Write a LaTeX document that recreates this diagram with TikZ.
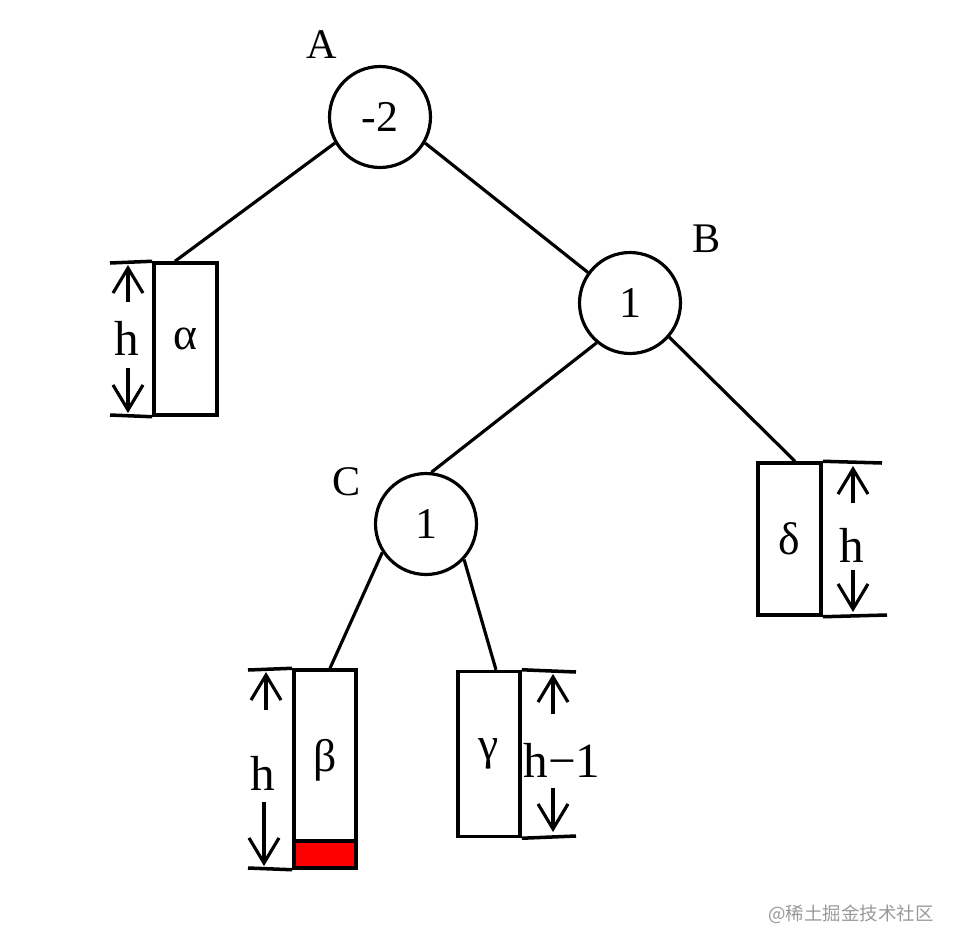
\documentclass[tikz,border=0pt]{standalone}
\usepackage{fontspec}
\setmainfont{Liberation Serif}
\newfontfamily\cjk{Noto Sans CJK SC}
\usetikzlibrary{arrows.meta}

\tikzset{
  balance/.style={draw, circle, line width=1.8pt, minimum size=2.02cm, inner sep=0pt,
    font=\fontsize{25}{25}\selectfont},
  subtree/.style={draw, rectangle, line width=2pt, inner sep=0pt,
    font=\fontsize{26}{26}\selectfont},
  treelabel/.style={font=\fontsize{24}{24}\selectfont},
  heightlabel/.style={font=\fontsize{28}{28}\selectfont},
  edge/.style={line width=1.8pt},
  tick/.style={line width=2pt},
  hgt/.style={line width=1.8pt, -{Straight Barb[length=0.5cm, width=0.6cm, line width=1.8pt]}},
}

\begin{document}
\begin{tikzpicture}[x=0.02cm, y=-0.02cm]
\useasboundingbox (0,0) rectangle (956,950);

% nodes of the tree
\node[balance] (A) at (380,117) {-2};
\node[balance] (B) at (630,303) {1};
\node[balance] (C) at (426,524) {1};
\node[treelabel] (la) at (322,45) {A};
\node[treelabel] (lb) at (707,239) {B};
\node[treelabel] (lc) at (347,482) {C};

% subtrees
\node[subtree, minimum width=1.26cm, minimum height=3.04cm] (alpha) at (185.5,339) {α};
\node[subtree, minimum width=1.26cm, minimum height=3.04cm] (delta) at (789.5,539) {δ};
\node[subtree, minimum width=1.24cm, minimum height=3.3cm] (gamma) at (489,754) {γ};
\fill[red] (295,842) rectangle (356,868);
\node[subtree, minimum width=1.24cm, minimum height=3.96cm] (beta) at (325,769) {};
\node[font=\fontsize{26}{26}\selectfont] (betatxt) at (325,760) {β};
\draw[tick] (beta.west |- 0,841) -- (beta.east |- 0,841);

% edges
\draw[edge] (A.210) -- ([xshift=-0.21cm]alpha.north);
\draw[edge] (A.-30) -- (B.144);
\draw[edge] (B.230) -- (C.84);
\draw[edge] (B.-41) -- ([xshift=0.11cm]delta.north);
\draw[edge] (C.213) -- ([xshift=0.1cm]beta.north);
\draw[edge] (C.-43) -- ([xshift=0.14cm]gamma.north);

% height markers
\coordinate (at) at (110,263); \coordinate (ab) at (110,415);
\draw[tick] (at) -- (alpha.north west);
\draw[tick] (ab) -- (alpha.south west);
\node[heightlabel] (ha) at (127,338) {h};
\draw[hgt] (128,302) -- (128,265);
\draw[hgt] (128,368) -- (128,413);

\coordinate (bt) at (248,670); \coordinate (bb) at (248,868);
\draw[tick] (bt) -- (beta.north west);
\draw[tick] (bb) -- (beta.south west);
\node[heightlabel] (hb) at (263,773) {h};
\draw[hgt] (266,710) -- (266,672);
\draw[hgt] (264,802) -- (264,866);

\coordinate (gt) at (576,672); \coordinate (gb) at (576,836);
\draw[tick] (gamma.north east) -- (gt);
\draw[tick] (gamma.south east) -- (gb);
\node[heightlabel] (hg) at (562,760) {h−1};
\draw[hgt] (553,714) -- (553,674);
\draw[hgt] (553,788) -- (553,832);

\coordinate (dt) at (882,463); \coordinate (db) at (887,615);
\draw[tick] (delta.north east) -- (dt);
\draw[tick] (delta.south east) -- (db);
\node[heightlabel] (hd) at (852,545) {h};
\draw[hgt] (853,503) -- (853,466);
\draw[hgt] (853,570) -- (853,612);

\node[text=black!40, font=\cjk\fontsize{10.5}{10.5}\selectfont] (mark) at (851,914) {@稀土掘金技术社区};
\end{tikzpicture}
\end{document}
